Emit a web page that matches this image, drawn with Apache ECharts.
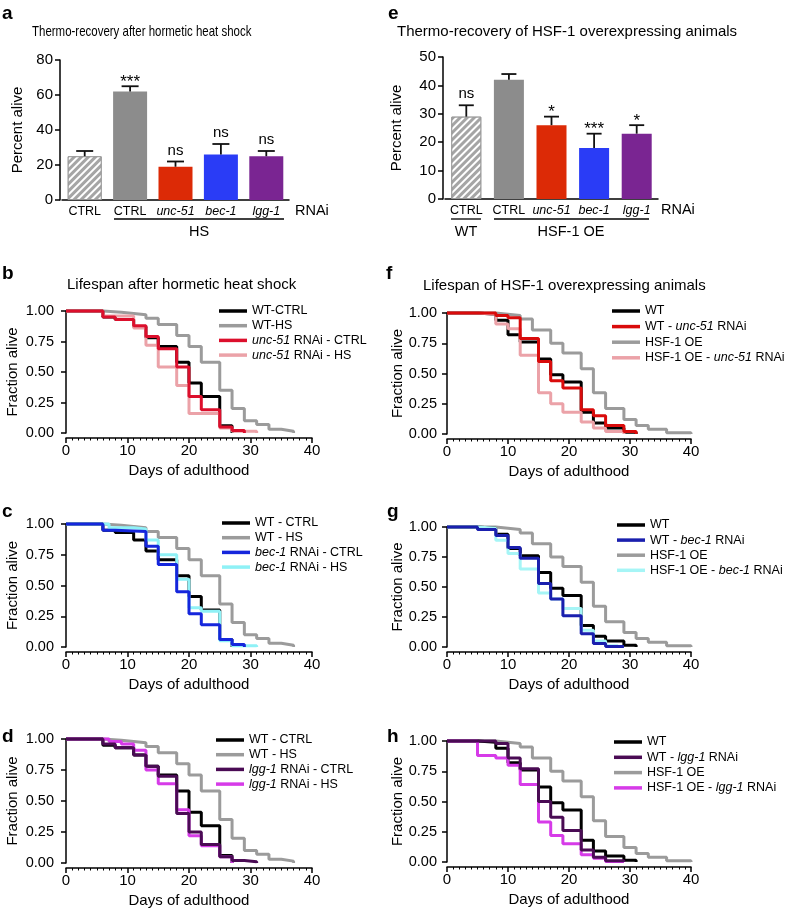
<!DOCTYPE html>
<html><head><meta charset="utf-8">
<script src="https://cdn.jsdelivr.net/npm/echarts@6/dist/echarts.min.js"></script>
<style>html,body{margin:0;padding:0;background:#fff}#c{width:788px;height:910px}</style>
</head><body><div id="c"></div>
<script>
const FONT = "'Liberation Sans', Arial, Helvetica, sans-serif";

// ---------- Panel a: thermo-recovery after hormetic heat shock ----------
const catsA = ['CTRL', 'CTRL', 'unc-51', 'bec-1', 'lgg-1'];
const valsA = [25, 62, 19, 26, 25];
const errsA = [3, 3, 3, 6, 3];
const sigA = ['', '***', 'ns', 'ns', 'ns'];
const ticksA = [0, 20, 40, 60, 80];

// ---------- Panel e: thermo-recovery of HSF-1 overexpressing animals ----------
const catsE = ['CTRL', 'CTRL', 'unc-51', 'bec-1', 'lgg-1'];
const valsE = [29, 42, 26, 18, 23];
const errsE = [4, 2, 3, 5, 3];
const sigE = ['ns', '', '*', '***', '*'];
const ticksE = [0, 10, 20, 30, 40, 50];

// ---------- Lifespan curves (day, fraction alive) ----------
const ticksDays = [0, 10, 20, 30, 40];
const ticksFrac = [0, 0.25, 0.5, 0.75, 1];

const wtCtrl = [[0,1],[6,0.95],[8,0.93],[11,0.87],[13,0.78],[15,0.71],[18,0.58],[20,0.41],[22,0.30],[25,0.06],[27,0]];
const wtHs = [[0,1],[6,0.99],[9,0.98],[11,0.97],[13,0.94],[15,0.89],[18,0.80],[20,0.71],[22,0.58],[25,0.35],[27,0.20],[29,0.10],[31,0.07],[33,0.03],[35,0.015],[37,0]];
const unc51Ctrl = [[0,1],[6,0.95],[8,0.93],[11,0.88],[13,0.79],[15,0.69],[18,0.54],[20,0.30],[22,0.19],[25,0.05],[27,0.02],[29,0]];
const unc51Hs = [[0,1],[6,0.96],[11,0.86],[13,0.72],[15,0.54],[18,0.39],[20,0.16],[25,0.04],[27,0.015],[31,0]];
const bec1Ctrl = [[0,1],[6,0.95],[8,0.94],[13,0.82],[15,0.67],[18,0.45],[20,0.27],[22,0.18],[25,0.06],[27,0.02],[29,0]];
const bec1Hs = [[0,1],[7,0.97],[11,0.96],[13,0.87],[15,0.75],[18,0.55],[20,0.32],[22,0.29],[25,0.05],[27,0.01],[31,0]];
const lgg1Ctrl = [[0,1],[6,0.96],[8,0.93],[11,0.87],[13,0.78],[15,0.70],[18,0.40],[20,0.25],[22,0.15],[25,0.05],[27,0.02],[29,0.01],[31,0]];
const lgg1Hs = [[0,1],[7,0.98],[9,0.96],[11,0.91],[13,0.75],[15,0.64],[18,0.43],[20,0.22],[22,0.14],[25,0.05],[27,0]];

const wt = [[0,1],[5,0.99],[8,0.94],[10,0.82],[12,0.76],[15,0.62],[17,0.49],[19,0.43],[22,0.18],[24,0.09],[26,0.05],[29,0.015],[31,0]];
const hsfOe = [[0,1],[8,0.99],[10,0.98],[12,0.95],[14,0.86],[17,0.75],[19,0.67],[22,0.54],[24,0.34],[26,0.21],[29,0.12],[31,0.07],[33,0.04],[36,0.01],[40,0]];
const wtUnc51 = [[0,1],[8,0.98],[10,0.96],[12,0.79],[15,0.60],[17,0.44],[19,0.38],[22,0.20],[24,0.15],[26,0.07],[29,0.02],[31,0]];
const hsfUnc51 = [[0,1],[5,0.99],[8,0.91],[10,0.87],[12,0.65],[15,0.34],[17,0.25],[19,0.18],[22,0.10],[24,0.05],[26,0.02],[29,0]];
const wtBec1 = [[0,1],[5,0.98],[8,0.93],[10,0.83],[12,0.74],[15,0.53],[17,0.40],[19,0.26],[22,0.11],[24,0.03],[26,0.005],[29,0]];
const hsfBec1 = [[0,1],[5,0.99],[8,0.89],[10,0.78],[12,0.65],[15,0.45],[17,0.40],[19,0.32],[22,0.14],[24,0.05],[26,0.01],[28,0]];
const wtLgg1 = [[0,1],[8,0.98],[10,0.86],[12,0.77],[15,0.50],[17,0.37],[19,0.26],[22,0.10],[24,0.04],[26,0.01],[29,0]];
const hsfLgg1 = [[0,1],[5,0.88],[8,0.86],[10,0.80],[12,0.64],[15,0.33],[17,0.22],[19,0.15],[22,0.06],[24,0.03],[26,0.005],[29,0]];

// ---------- styles ----------
const C = {
  black: '#000000', gray: '#9b9b9b',
  crimson: '#dc0f2c', pink: '#eba2a8',
  blue: '#1526dc', cyan: '#8ff1f6',
  navy: '#1a1fae', cyan2: '#a6f5f6',
  red: '#d90b0b',
  plum: '#4a0b54', magenta: '#d63be8'
};
const barColorsA = ['#a5a5a5', '#8c8c8c', '#dc2a06', '#2a3cf6', '#7a2592'];
const barColorsE = barColorsA;

const grids = [
  {left: 62, top: 60, width: 227, height: 140},   // a
  {left: 445, top: 57, width: 213, height: 142},  // e
  {left: 66, top: 311, width: 246, height: 122},  // b
  {left: 66, top: 524, width: 246, height: 123},  // c
  {left: 66, top: 739, width: 246, height: 124},  // d
  {left: 447, top: 313, width: 244, height: 121}, // f
  {left: 447, top: 527, width: 244, height: 120}, // g
  {left: 447, top: 741, width: 244, height: 121}  // h
];

const xAxes = [], yAxes = [], series = [], legends = [];

function catLabel(v) { return v === 'CTRL' ? v : '{i|' + v + '}'; }
function italicize(name) { return name.replace(/(unc-51|bec-1|lgg-1)/, '{i|$1}'); }

function barPanel(g, cats, vals, errs, sigs, colors, ticks, barW, yName, nameGap) {
  xAxes.push({
    type: 'category', gridIndex: g, data: cats,
    axisLine: {lineStyle: {color: '#000', width: 1.5}},
    axisTick: {show: false},
    axisLabel: {color: '#000', fontSize: 12.5, fontFamily: FONT, margin: 5, interval: 0,
      formatter: catLabel, rich: {i: {fontStyle: 'italic', fontSize: 12.5, fontFamily: FONT, color: '#000'}}}
  });
  yAxes.push({
    type: 'value', gridIndex: g, min: ticks[0], max: ticks[ticks.length - 1],
    interval: ticks[1] - ticks[0], offset: 2,
    axisLine: {show: true, lineStyle: {color: '#000', width: 1.5}},
    axisTick: {show: true, length: 5, lineStyle: {width: 1.5}},
    axisLabel: {color: '#000', fontSize: 15, fontFamily: FONT, margin: 7},
    splitLine: {show: false},
    name: yName, nameLocation: 'middle', nameGap: nameGap,
    nameTextStyle: {fontSize: 15, fontFamily: FONT, color: '#000'}
  });
  series.push({
    type: 'bar', xAxisIndex: g, yAxisIndex: g, barWidth: barW,
    data: vals.map((v, i) => ({
      value: v,
      itemStyle: i === 0 ? {
        color: colors[i], borderColor: '#9a9a9a', borderWidth: 1,
        decal: {symbol: 'rect', symbolSize: 1, dashArrayX: [1, 0], dashArrayY: [2, 2.2], rotation: -Math.PI / 4, color: '#ffffff'}
      } : {color: colors[i]}
    }))
  });
  series.push({
    type: 'custom', xAxisIndex: g, yAxisIndex: g, z: 5,
    data: vals.map((v, i) => [i, v, errs[i]]),
    renderItem(params, api) {
      const i = api.value(0), v = api.value(1), e = api.value(2);
      const p0 = api.coord([i, v]);
      const p1 = api.coord([i, v + e]);
      const hw = barW * 0.25;
      const sig = sigs[params.dataIndex];
      const ch = [
        {type: 'line', shape: {x1: p0[0], y1: p0[1], x2: p1[0], y2: p1[1]}, style: {stroke: '#111', lineWidth: 1.8}},
        {type: 'line', shape: {x1: p1[0] - hw, y1: p1[1], x2: p1[0] + hw, y2: p1[1]}, style: {stroke: '#111', lineWidth: 1.8}}
      ];
      if (sig) {
        const isNs = sig === 'ns';
        ch.push({type: 'text', x: p1[0], y: isNs ? p1[1] - 11 : p1[1] - 4,
          style: {text: sig, fontSize: isNs ? 15 : 17, fontFamily: FONT, fill: '#000', align: 'center', verticalAlign: 'middle'}});
      }
      return {type: 'group', children: ch};
    }
  });
}

barPanel(0, catsA, valsA, errsA, sigA, barColorsA, ticksA, 34, 'Percent alive', 35);
barPanel(1, catsE, valsE, errsE, sigE, barColorsE, ticksE, 30, 'Percent alive', 39);

function lifePanel(g, curves, legendOrder, legendPos, gap, yOffset, nameGap) {
  xAxes.push({
    type: 'value', gridIndex: g, min: ticksDays[0], max: ticksDays[ticksDays.length - 1],
    interval: ticksDays[1] - ticksDays[0], offset: 5,
    axisLine: {show: true, onZero: false, lineStyle: {color: '#000', width: 1.5}},
    axisTick: {show: true, length: 5, lineStyle: {width: 1.5}},
    minorTick: {show: true, splitNumber: 10, length: 2.5, lineStyle: {color: '#000', width: 1}},
    axisLabel: {color: '#000', fontSize: 15, fontFamily: FONT, margin: 5},
    splitLine: {show: false},
    name: 'Days of adulthood', nameLocation: 'middle', nameGap: 25,
    nameTextStyle: {fontSize: 15, fontFamily: FONT, color: '#000'}
  });
  yAxes.push({
    type: 'value', gridIndex: g, min: ticksFrac[0], max: ticksFrac[ticksFrac.length - 1],
    interval: ticksFrac[1] - ticksFrac[0], offset: yOffset,
    axisLine: {show: true, lineStyle: {color: '#000', width: 1.5}},
    axisTick: {show: true, length: 5, lineStyle: {width: 1.5}},
    axisLabel: {color: '#000', fontSize: 14.5, fontFamily: FONT, margin: 7, formatter: v => v.toFixed(2)},
    splitLine: {show: false},
    name: 'Fraction alive', nameLocation: 'middle', nameGap: nameGap,
    nameTextStyle: {fontSize: 15, fontFamily: FONT, color: '#000'}
  });
  curves.forEach(c => {
    series.push({
      type: 'line', name: c.name, xAxisIndex: g, yAxisIndex: g, data: c.data,
      step: 'end', symbol: 'none', clip: false, animation: false,
      itemStyle: {color: c.color}, lineStyle: {color: c.color, width: 3}
    });
  });
  legends.push({
    data: legendOrder, orient: 'vertical', left: legendPos[0], top: legendPos[1],
    padding: 0, itemGap: gap, itemWidth: 28, itemHeight: 3.5, icon: 'rect',
    selectedMode: false,
    formatter: italicize,
    textStyle: {fontSize: 12.5, fontFamily: FONT, color: '#000', lineHeight: 14,
      rich: {i: {fontStyle: 'italic', fontSize: 12.5, fontFamily: FONT, color: '#000', lineHeight: 14}}}
  });
}

lifePanel(2, [
  {name: 'WT-HS', data: wtHs, color: C.gray},
  {name: 'WT-CTRL', data: wtCtrl, color: C.black},
  {name: 'unc-51 RNAi - HS', data: unc51Hs, color: C.pink},
  {name: 'unc-51 RNAi - CTRL', data: unc51Ctrl, color: C.crimson}
], ['WT-CTRL', 'WT-HS', 'unc-51 RNAi - CTRL', 'unc-51 RNAi - HS'], [219, 304], 0.7, 5, 41);

lifePanel(3, [
  {name: 'WT - HS', data: wtHs, color: C.gray},
  {name: 'WT - CTRL', data: wtCtrl, color: C.black},
  {name: 'bec-1 RNAi - HS', data: bec1Hs, color: C.cyan},
  {name: 'bec-1 RNAi - CTRL', data: bec1Ctrl, color: C.blue}
], ['WT - CTRL', 'WT - HS', 'bec-1 RNAi - CTRL', 'bec-1 RNAi - HS'], [222, 516], 0.7, 5, 41);

lifePanel(4, [
  {name: 'WT - HS', data: wtHs, color: C.gray},
  {name: 'WT - CTRL', data: wtCtrl, color: C.black},
  {name: 'lgg-1 RNAi - HS', data: lgg1Hs, color: C.magenta},
  {name: 'lgg-1 RNAi - CTRL', data: lgg1Ctrl, color: C.plum}
], ['WT - CTRL', 'WT - HS', 'lgg-1 RNAi - CTRL', 'lgg-1 RNAi - HS'], [216, 733], 0.7, 5, 41);

lifePanel(5, [
  {name: 'HSF-1 OE', data: hsfOe, color: C.gray},
  {name: 'WT', data: wt, color: C.black},
  {name: 'HSF-1 OE - unc-51 RNAi', data: hsfUnc51, color: C.pink},
  {name: 'WT - unc-51 RNAi', data: wtUnc51, color: C.red}
], ['WT', 'WT - unc-51 RNAi', 'HSF-1 OE', 'HSF-1 OE - unc-51 RNAi'], [612, 304], 1.6, 3, 38);

lifePanel(6, [
  {name: 'HSF-1 OE', data: hsfOe, color: C.gray},
  {name: 'WT', data: wt, color: C.black},
  {name: 'HSF-1 OE - bec-1 RNAi', data: hsfBec1, color: C.cyan2},
  {name: 'WT - bec-1 RNAi', data: wtBec1, color: C.navy}
], ['WT', 'WT - bec-1 RNAi', 'HSF-1 OE', 'HSF-1 OE - bec-1 RNAi'], [617, 518], 1.1, 3, 38);

lifePanel(7, [
  {name: 'HSF-1 OE', data: hsfOe, color: C.gray},
  {name: 'WT', data: wt, color: C.black},
  {name: 'HSF-1 OE - lgg-1 RNAi', data: hsfLgg1, color: C.magenta},
  {name: 'WT - lgg-1 RNAi', data: wtLgg1, color: C.plum}
], ['WT', 'WT - lgg-1 RNAi', 'HSF-1 OE', 'HSF-1 OE - lgg-1 RNAi'], [614, 735], 1.3, 3, 38);

// ---------- annotations ----------
function txt(x, y, text, size, opts) {
  return Object.assign({type: 'text', x: x, y: y, silent: true,
    style: Object.assign({text: text, fontSize: size, fontFamily: FONT, fill: '#000', align: 'left', verticalAlign: 'middle'}, (opts && opts.style) || {})},
    (opts && opts.el) || {});
}
function hline(x1, x2, y) {
  return {type: 'line', silent: true, shape: {x1: x1, y1: y, x2: x2, y2: y}, style: {stroke: '#000', lineWidth: 1.3}};
}
const B = {style: {fontWeight: 'bold'}};
const graphic = [
  txt(2, 14, 'a', 19, B), txt(388, 14, 'e', 19, B),
  txt(2, 274, 'b', 19, B), txt(386, 274, 'f', 19, B),
  txt(2, 512, 'c', 19, B), txt(387, 512, 'g', 19, B),
  txt(2, 737, 'd', 19, B), txt(387, 737, 'h', 19, B),
  txt(32, 32, 'Thermo-recovery after hormetic heat shock', 15, {el: {scaleX: 0.765}}),
  txt(397, 32, 'Thermo-recovery of HSF-1 overexpressing animals', 15),
  txt(67, 285, 'Lifespan after hormetic heat shock', 15),
  txt(423, 286, 'Lifespan of HSF-1 overexpressing animals', 15),
  txt(295, 211, 'RNAi', 14.5),
  hline(114, 284, 219),
  txt(199, 232, 'HS', 14.5, {style: {align: 'center'}}),
  txt(661, 210, 'RNAi', 14.5),
  hline(451, 481, 219), hline(494, 649, 219),
  txt(466, 232, 'WT', 14.5, {style: {align: 'center'}}),
  txt(571, 232, 'HSF-1 OE', 14.5, {style: {align: 'center'}})
];

const chart = echarts.init(document.getElementById('c'), null, {renderer: 'canvas'});
chart.setOption({
  animation: false,
  backgroundColor: '#ffffff',
  textStyle: {fontFamily: FONT},
  grid: grids,
  xAxis: xAxes,
  yAxis: yAxes,
  legend: legends,
  series: series,
  graphic: graphic
});
</script></body></html>
